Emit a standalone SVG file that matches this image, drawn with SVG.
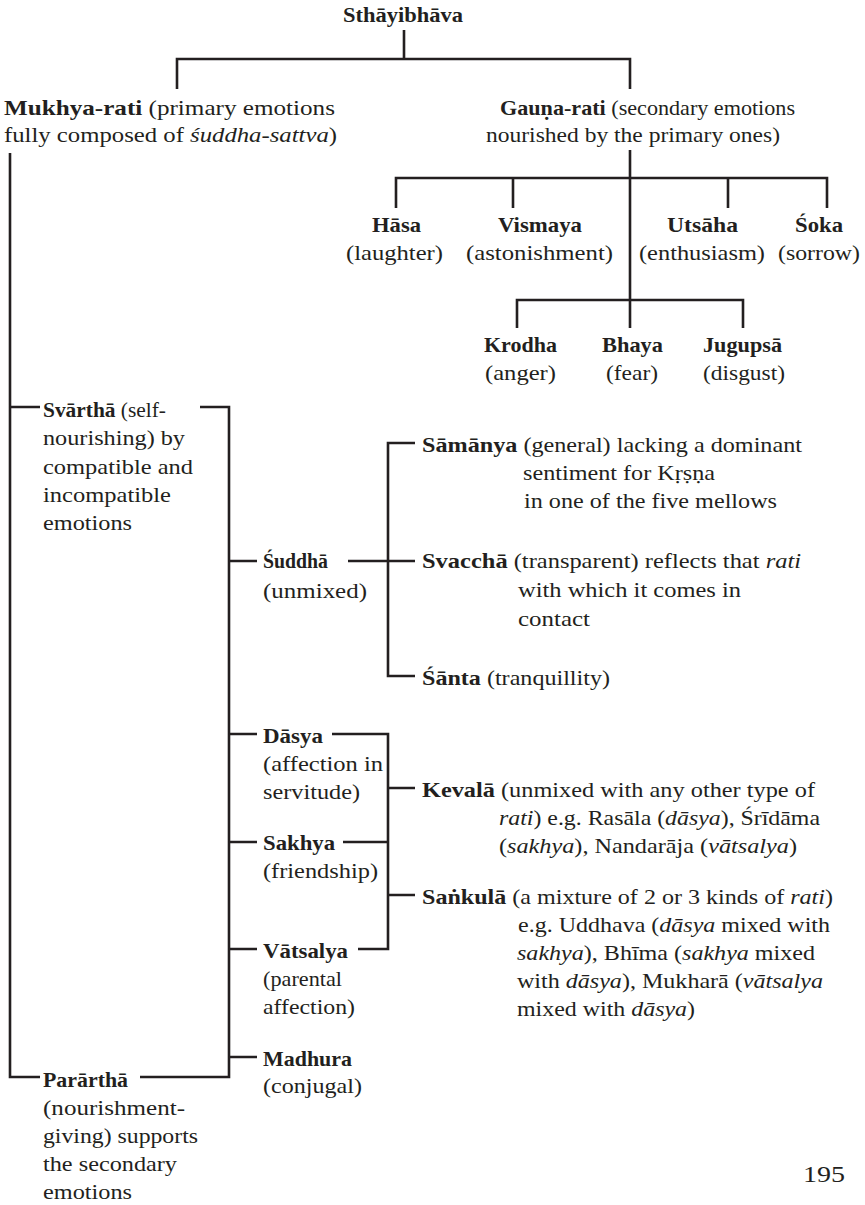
<svg xmlns="http://www.w3.org/2000/svg" width="865" height="1205" viewBox="0 0 865 1205" font-family="Liberation Serif, serif" font-size="22" fill="#231f20">
<style>
.b{font-weight:bold}
.i{font-style:italic}
.c{fill:none;stroke:#231f20;stroke-width:2.6;stroke-linecap:butt;stroke-linejoin:miter}
</style>
<rect width="865" height="1205" fill="#ffffff"/>
<g id="connectors" class="c">
<path d="M404 30V59M177 89V59H630V89"/>
<path d="M630 150V328M396 208V178H827V208M513 178V208M728 178V208M517 328V300H743V328"/>
<path d="M10 153V1077H40M10 407H40"/>
<path d="M200 407H229V1077H140M229 561H257M229 734H257M229 842H257M229 949H257M229 1057H257"/>
<path d="M348 561H415M415 443H388V676H415"/>
<path d="M332 734H388V949H358M343 842H388M388 788H415M388 895H415"/>
</g>
<g id="n-sthayibhava"><text x="343" y="22" class="b" textLength="120" lengthAdjust="spacingAndGlyphs">Sthāyibhāva</text></g>
<g id="n-mukhya">
<text x="4" y="115" textLength="331" lengthAdjust="spacingAndGlyphs"><tspan class="b">Mukhya-rati</tspan> (primary emotions</text>
<text x="4" y="142" textLength="333" lengthAdjust="spacingAndGlyphs">fully composed of <tspan class="i">śuddha-sattva</tspan>)</text>
</g>
<g id="n-gauna">
<text x="500" y="115" textLength="295" lengthAdjust="spacingAndGlyphs"><tspan class="b">Gauṇa-rati</tspan> (secondary emotions</text>
<text x="486" y="142" textLength="294" lengthAdjust="spacingAndGlyphs">nourished by the primary ones)</text>
</g>
<g id="n-hasa">
<text x="372" y="232" class="b" textLength="49" lengthAdjust="spacingAndGlyphs">Hāsa</text>
<text x="346" y="260" textLength="97" lengthAdjust="spacingAndGlyphs">(laughter)</text>
</g>
<g id="n-vismaya">
<text x="498" y="232" class="b" textLength="84" lengthAdjust="spacingAndGlyphs">Vismaya</text>
<text x="466" y="260" textLength="147" lengthAdjust="spacingAndGlyphs">(astonishment)</text>
</g>
<g id="n-utsaha">
<text x="667" y="232" class="b" textLength="71" lengthAdjust="spacingAndGlyphs">Utsāha</text>
<text x="639" y="260" textLength="126" lengthAdjust="spacingAndGlyphs">(enthusiasm)</text>
</g>
<g id="n-soka">
<text x="795" y="232" class="b" textLength="48" lengthAdjust="spacingAndGlyphs">Śoka</text>
<text x="778" y="260" textLength="82" lengthAdjust="spacingAndGlyphs">(sorrow)</text>
</g>
<g id="n-krodha">
<text x="484" y="352" class="b" textLength="73" lengthAdjust="spacingAndGlyphs">Krodha</text>
<text x="485" y="380" textLength="71" lengthAdjust="spacingAndGlyphs">(anger)</text>
</g>
<g id="n-bhaya">
<text x="602" y="352" class="b" textLength="61" lengthAdjust="spacingAndGlyphs">Bhaya</text>
<text x="606" y="380" textLength="52" lengthAdjust="spacingAndGlyphs">(fear)</text>
</g>
<g id="n-jugupsa">
<text x="703" y="352" class="b" textLength="79" lengthAdjust="spacingAndGlyphs">Jugupsā</text>
<text x="703" y="380" textLength="82" lengthAdjust="spacingAndGlyphs">(disgust)</text>
</g>
<g id="n-svartha">
<text x="43" y="417" textLength="123" lengthAdjust="spacingAndGlyphs"><tspan class="b">Svārthā</tspan> (self-</text>
<text x="43" y="445" textLength="142" lengthAdjust="spacingAndGlyphs">nourishing) by</text>
<text x="43" y="474" textLength="150" lengthAdjust="spacingAndGlyphs">compatible and</text>
<text x="43" y="502" textLength="128" lengthAdjust="spacingAndGlyphs">incompatible</text>
<text x="43" y="530" textLength="89" lengthAdjust="spacingAndGlyphs">emotions</text>
</g>
<g id="n-suddha">
<text x="263" y="568" class="b" textLength="65" lengthAdjust="spacingAndGlyphs">Śuddhā</text>
<text x="263" y="598" textLength="104" lengthAdjust="spacingAndGlyphs">(unmixed)</text>
</g>
<g id="n-samanya">
<text x="422" y="452" textLength="380" lengthAdjust="spacingAndGlyphs"><tspan class="b">Sāmānya</tspan> (general) lacking a dominant</text>
<text x="523" y="480" textLength="192" lengthAdjust="spacingAndGlyphs">sentiment for Kṛṣṇa</text>
<text x="524" y="508" textLength="253" lengthAdjust="spacingAndGlyphs">in one of the five mellows</text>
</g>
<g id="n-svaccha">
<text x="422" y="568" textLength="379" lengthAdjust="spacingAndGlyphs"><tspan class="b">Svacchā</tspan> (transparent) reflects that <tspan class="i">rati</tspan></text>
<text x="518" y="597" textLength="223" lengthAdjust="spacingAndGlyphs">with which it comes in</text>
<text x="518" y="626" textLength="72" lengthAdjust="spacingAndGlyphs">contact</text>
</g>
<g id="n-santa">
<text x="422" y="685" textLength="188" lengthAdjust="spacingAndGlyphs"><tspan class="b">Śānta</tspan> (tranquillity)</text>
</g>
<g id="n-dasya">
<text x="263" y="743" class="b" textLength="60" lengthAdjust="spacingAndGlyphs">Dāsya</text>
<text x="263" y="771" textLength="120" lengthAdjust="spacingAndGlyphs">(affection in</text>
<text x="263" y="799" textLength="97" lengthAdjust="spacingAndGlyphs">servitude)</text>
</g>
<g id="n-sakhya">
<text x="263" y="850" class="b" textLength="72" lengthAdjust="spacingAndGlyphs">Sakhya</text>
<text x="263" y="878" textLength="115" lengthAdjust="spacingAndGlyphs">(friendship)</text>
</g>
<g id="n-vatsalya">
<text x="263" y="958" class="b" textLength="85" lengthAdjust="spacingAndGlyphs">Vātsalya</text>
<text x="263" y="986" textLength="79" lengthAdjust="spacingAndGlyphs">(parental</text>
<text x="263" y="1014" textLength="92" lengthAdjust="spacingAndGlyphs">affection)</text>
</g>
<g id="n-madhura">
<text x="263" y="1066" class="b" textLength="89" lengthAdjust="spacingAndGlyphs">Madhura</text>
<text x="263" y="1093" textLength="99" lengthAdjust="spacingAndGlyphs">(conjugal)</text>
</g>
<g id="n-kevala">
<text x="422" y="797" textLength="393" lengthAdjust="spacingAndGlyphs"><tspan class="b">Kevalā</tspan> (unmixed with any other type of</text>
<text x="499" y="825" textLength="321" lengthAdjust="spacingAndGlyphs"><tspan class="i">rati</tspan>) e.g. Rasāla (<tspan class="i">dāsya</tspan>), Śrīdāma</text>
<text x="499" y="853" textLength="298" lengthAdjust="spacingAndGlyphs">(<tspan class="i">sakhya</tspan>), Nandarāja (<tspan class="i">vātsalya</tspan>)</text>
</g>
<g id="n-sankula">
<text x="422" y="904" textLength="411" lengthAdjust="spacingAndGlyphs"><tspan class="b">Saṅkulā</tspan> (a mixture of 2 or 3 kinds of <tspan class="i">rati</tspan>)</text>
<text x="518" y="932" textLength="312" lengthAdjust="spacingAndGlyphs">e.g. Uddhava (<tspan class="i">dāsya</tspan> mixed with</text>
<text x="517" y="960" textLength="298" lengthAdjust="spacingAndGlyphs"><tspan class="i">sakhya</tspan>), Bhīma (<tspan class="i">sakhya</tspan> mixed</text>
<text x="517" y="988" textLength="306" lengthAdjust="spacingAndGlyphs">with <tspan class="i">dāsya</tspan>), Mukharā (<tspan class="i">vātsalya</tspan></text>
<text x="517" y="1016" textLength="178" lengthAdjust="spacingAndGlyphs">mixed with <tspan class="i">dāsya</tspan>)</text>
</g>
<g id="n-parartha">
<text x="43" y="1087" class="b" textLength="85" lengthAdjust="spacingAndGlyphs">Parārthā</text>
<text x="43" y="1115" textLength="142" lengthAdjust="spacingAndGlyphs">(nourishment-</text>
<text x="43" y="1143" textLength="155" lengthAdjust="spacingAndGlyphs">giving) supports</text>
<text x="43" y="1171" textLength="134" lengthAdjust="spacingAndGlyphs">the secondary</text>
<text x="43" y="1199" textLength="89" lengthAdjust="spacingAndGlyphs">emotions</text>
</g>
<g id="page-number"><text x="803" y="1182" font-size="24" textLength="42" lengthAdjust="spacingAndGlyphs">195</text></g>
</svg>
